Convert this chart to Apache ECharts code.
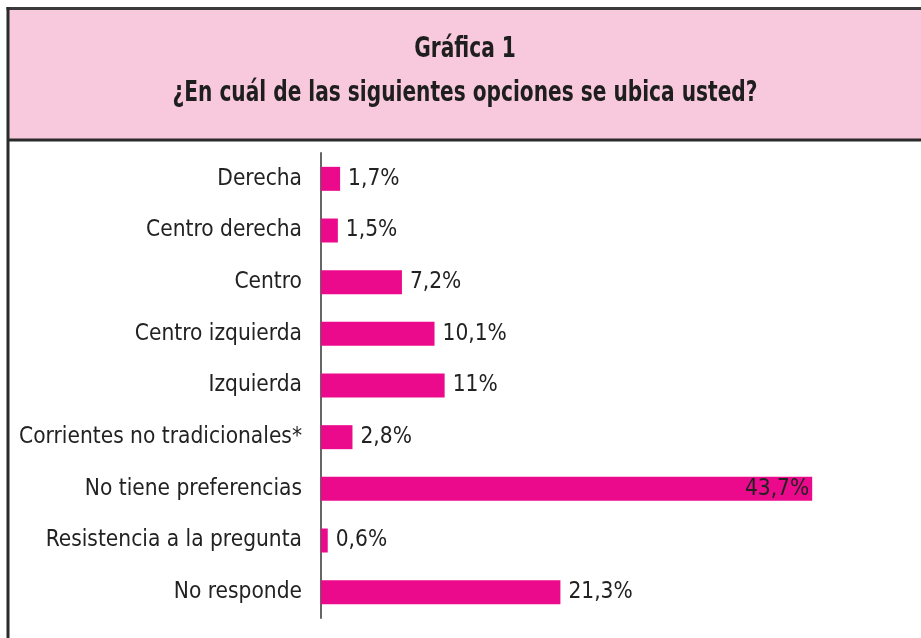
<!DOCTYPE html>
<html>
<head>
<meta charset="utf-8">
<script src="https://cdn.jsdelivr.net/npm/echarts@6/dist/echarts.min.js"></script>
<style>
  html, body { margin: 0; padding: 0; background: #fff; }
  #chart { width: 921px; height: 638px; }
</style>
</head>
<body>
<div id="chart"></div>
<script>
// categories and values (percent)
var categorias = ['Derecha', 'Centro derecha', 'Centro', 'Centro izquierda', 'Izquierda',
  'Corrientes no tradicionales*', 'No tiene preferencias', 'Resistencia a la pregunta', 'No responde'];
var valores = [1.7, 1.5, 7.2, 10.1, 11, 2.8, 43.7, 0.6, 21.3];
var etiquetas = ['1,7%', '1,5%', '7,2%', '10,1%', '11%', '2,8%', '43,7%', '0,6%', '21,3%'];
var titulo = ['Gráfica 1', '¿En cuál de las siguientes opciones se ubica usted?'];

var fuente = "'DejaVu Sans Condensed', 'Liberation Sans Narrow', sans-serif";

var chart = echarts.init(document.getElementById('chart'));

var datos = valores.map(function (v, i) {
  var item = { value: v };
  if (v > 40) {
    item.label = { position: 'insideRight', distance: 3 };
  }
  return item;
});

var option = {
  animation: false,
  graphic: [
    {
      type: 'rect',
      shape: { x: 8, y: 8, width: 920, height: 132 },
      style: { fill: '#f8c8dc', stroke: null }
    },
    { type: 'line', shape: { x1: 6.5, y1: 8.5, x2: 921, y2: 8.5 }, style: { stroke: '#3a3a3a', lineWidth: 3 } },
    { type: 'line', shape: { x1: 8, y1: 7, x2: 8, y2: 638 }, style: { stroke: '#2a2a2a', lineWidth: 3 } },
    { type: 'line', shape: { x1: 7, y1: 140, x2: 921, y2: 140 }, style: { stroke: '#2a2a2a', lineWidth: 3 } },
    {
      type: 'text', x: 465, y: 50, scaleX: 0.8,
      style: { text: titulo[0], fill: '#1e1e1e', font: 'bold 28px ' + fuente, textAlign: 'center', textVerticalAlign: 'middle' }
    },
    {
      type: 'text', x: 465, y: 94, scaleX: 0.8,
      style: { text: titulo[1], fill: '#1e1e1e', font: 'bold 28px ' + fuente, textAlign: 'center', textVerticalAlign: 'middle' }
    }
  ],
  grid: { left: 321, right: 38, top: 153, bottom: 20, containLabel: false },
  xAxis: {
    type: 'value',
    min: 0,
    max: 50,
    show: false
  },
  yAxis: {
    type: 'category',
    data: categorias,
    inverse: true,
    axisLine: { show: true, lineStyle: { color: '#666', width: 2 } },
    axisTick: { show: false },
    axisLabel: {
      margin: 19,
      color: '#222',
      fontSize: 22.5,
      fontFamily: fuente
    }
  },
  series: [
    {
      type: 'bar',
      data: datos,
      barWidth: 24,
      itemStyle: { color: '#ec0a8c' },
      label: {
        show: true,
        position: 'right',
        distance: 8,
        color: '#222',
        fontSize: 22.5,
        fontFamily: fuente,
        formatter: function (p) { return etiquetas[p.dataIndex]; }
      }
    }
  ]
};

chart.setOption(option);
</script>
</body>
</html>
